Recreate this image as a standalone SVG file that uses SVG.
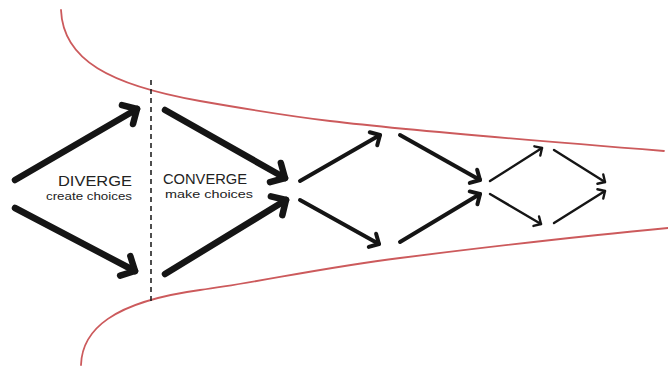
<svg xmlns="http://www.w3.org/2000/svg" width="668" height="367" viewBox="0 0 668 367">
<style>
.bound{fill:none;stroke:#cc5a5c;stroke-width:1.8;stroke-linecap:round}
.divider{fill:none;stroke:#222;stroke-width:1.6;stroke-dasharray:5 4}
.a1{fill:none;stroke:#151515;stroke-width:6.5;stroke-linecap:round;marker-end:url(#h1)}
.a2{fill:none;stroke:#151515;stroke-width:4;stroke-linecap:round;marker-end:url(#h2)}
.a3{fill:none;stroke:#151515;stroke-width:2.4;stroke-linecap:round;marker-end:url(#h3)}
.cap{font-family:"Liberation Sans",Arial,sans-serif;font-size:14px;fill:#222}
.sub{font-family:"Liberation Sans",Arial,sans-serif;font-size:11.5px;fill:#222}
</style>
<defs>
<marker id="h1" markerUnits="userSpaceOnUse" viewBox="-20 -20 30 40" markerWidth="30" markerHeight="40" refX="0" refY="0" orient="auto" overflow="visible">
<path d="M-11,-11 L0,0 L-11,11" fill="none" stroke="#151515" stroke-width="6.5" stroke-linecap="round" stroke-linejoin="round"/>
</marker>
<marker id="h2" markerUnits="userSpaceOnUse" viewBox="-20 -20 30 40" markerWidth="30" markerHeight="40" refX="0" refY="0" orient="auto" overflow="visible">
<path d="M-7.5,-7.5 L0,0 L-7.5,7.5" fill="none" stroke="#151515" stroke-width="4" stroke-linecap="round" stroke-linejoin="round"/>
</marker>
<marker id="h3" markerUnits="userSpaceOnUse" viewBox="-20 -20 30 40" markerWidth="30" markerHeight="40" refX="0" refY="0" orient="auto" overflow="visible">
<path d="M-5.5,-5.5 L0,0 L-5.5,5.5" fill="none" stroke="#151515" stroke-width="2.4" stroke-linecap="round" stroke-linejoin="round"/>
</marker>
</defs>
<rect width="668" height="367" fill="#fff"/>
<g id="boundaries">
<path class="bound" d="M61,10 C63,60 110,85 200,101 C240,108 280,115 330,121 S500,138 664,151"/>
<path class="bound" d="M81,365 C82,330 112,302 200,290 C260,282 320,268 400,258 S560,238 668,228"/>
</g>
<g id="divider">
<line class="divider" x1="151" y1="80" x2="151" y2="302"/>
</g>
<g id="connectors">
<line class="a1" x1="15" y1="180" x2="137" y2="109"/>
<line class="a1" x1="15" y1="208" x2="135" y2="271"/>
<line class="a1" x1="165" y1="110" x2="285" y2="178"/>
<line class="a1" x1="165" y1="274" x2="286" y2="200"/>
<line class="a2" x1="300" y1="181" x2="380" y2="135"/>
<line class="a2" x1="300" y1="200" x2="379" y2="244"/>
<line class="a2" x1="400" y1="135" x2="480" y2="180"/>
<line class="a2" x1="400" y1="242" x2="480" y2="194"/>
<line class="a3" x1="490" y1="181" x2="542" y2="148"/>
<line class="a3" x1="490" y1="194" x2="541" y2="224"/>
<line class="a3" x1="554" y1="150" x2="605" y2="182"/>
<line class="a3" x1="554" y1="223" x2="605" y2="191"/>
</g>
<g id="diverge">
<text class="cap" x="58" y="186" textLength="74" lengthAdjust="spacingAndGlyphs">DIVERGE</text>
<text class="sub" x="46" y="200" textLength="86" lengthAdjust="spacingAndGlyphs">create choices</text>
</g>
<g id="converge">
<text class="cap" x="163" y="184" textLength="84" lengthAdjust="spacingAndGlyphs">CONVERGE</text>
<text class="sub" x="165" y="198" textLength="88" lengthAdjust="spacingAndGlyphs">make choices</text>
</g>
</svg>
